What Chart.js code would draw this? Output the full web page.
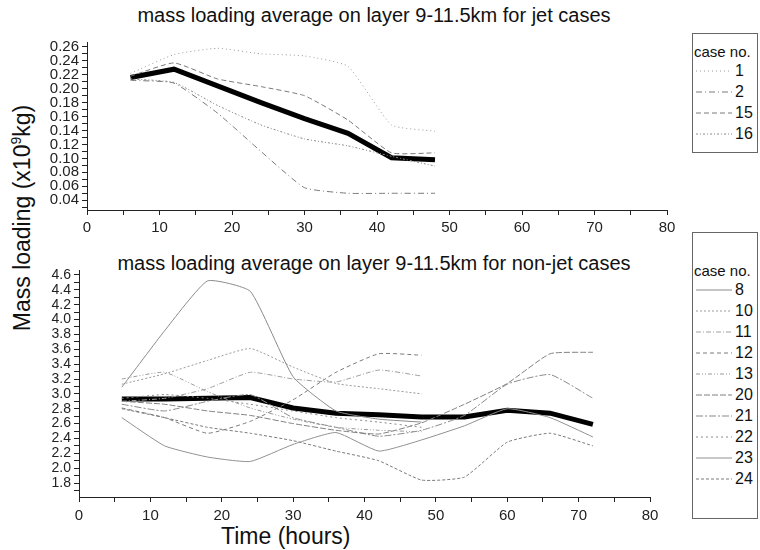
<!DOCTYPE html>
<html>
<head>
<meta charset="utf-8">
<script src="https://cdn.jsdelivr.net/npm/chart.js@4.4.1/dist/chart.umd.min.js"></script>
<style>
  body { margin: 0; background: #fff; font-family: "Liberation Sans", Arial, sans-serif; color: #111; }
  #page { position: relative; width: 760px; height: 550px; overflow: hidden; }
  canvas { position: absolute; }
  .title { position: absolute; left: 0; width: 748px; text-align: center; font-size: 20px; white-space: nowrap; }
  .legend { position: absolute; left: 692px; width: 66px; border: 1px solid #666; box-sizing: border-box; font-size: 16px; }
  .legend .head { font-size: 15px; padding-left: 1px; white-space: nowrap; }
  .legend .row { height: 21px; display: flex; align-items: center; }
  .legend svg { margin-left: 3px; margin-right: 3px; }
</style>
</head>
<body>
<div id="page">
  <div class="title" style="top:4px">mass loading average on layer 9-11.5km for jet cases</div>
  <div class="title" style="top:252px">mass loading average on layer 9-11.5km for non-jet cases</div>
  <div style="position:absolute;left:22px;top:218px;transform:translate(-50%,-50%) rotate(-90deg);font-size:23px;white-space:nowrap">Mass loading (x10<sup style="font-size:14px">9</sup>kg)</div>
  <div style="position:absolute;left:221px;top:523px;font-size:23px;white-space:nowrap">Time (hours)</div>
  <canvas id="jet" width="690" height="215" style="left:0;top:30px"></canvas>
  <canvas id="nonjet" width="690" height="270" style="left:0;top:255px"></canvas>
  <div class="legend" id="legJet" style="top:33px;height:120px;padding-top:9px"></div>
  <div class="legend" id="legNon" style="top:232px;height:287px;padding-top:29px"></div>
</div>
<script>
// jet cases, every 6 hours
const hoursJet = [6, 12, 18, 24, 30, 36, 42, 48];
const case1 = [0.222, 0.249, 0.258, 0.250, 0.247, 0.232, 0.148, 0.139];
const case2 = [0.212, 0.208, 0.165, 0.110, 0.058, 0.050, 0.050, 0.050];
const case15 = [0.218, 0.237, 0.214, 0.203, 0.190, 0.155, 0.108, 0.108];
const case16 = [0.214, 0.209, 0.176, 0.148, 0.128, 0.118, 0.103, 0.089];
const meanJet = [0.216, 0.228, 0.204, 0.180, 0.157, 0.136, 0.101, 0.098];

// non-jet cases
const hoursNon = [6, 12, 18, 24, 30, 36, 42, 48, 54, 60, 66, 72];
const case8 = [3.09, 3.85, 4.52, 4.38, 3.23, 2.77, 2.66, 2.62];
const case10 = [3.13, 3.27, 3.45, 3.61, 3.36, 3.14, 3.07, 3.00];
const case11 = [2.90, 2.94, 3.07, 3.29, 3.20, 3.16, 3.32, 3.24];
const case12 = [2.81, 2.68, 2.47, 2.63, 2.92, 3.29, 3.54, 3.52];
const case13 = [3.20, 3.29, 3.03, 2.81, 2.66, 2.55, 2.51, 2.49];
const case20 = [2.90, 2.86, 2.77, 2.71, 2.60, 2.51, 2.46, 2.61, 2.86, 3.14, 3.54, 3.56];
const case21 = [2.86, 2.77, 2.90, 2.99, 2.68, 2.55, 2.43, 2.51, 2.71, 3.13, 3.26, 2.94];
const case22 = [2.94, 2.99, 2.94, 2.86, 2.77, 2.68, 2.62, 2.55];
const case23 = [2.68, 2.30, 2.15, 2.09, 2.32, 2.48, 2.23, 2.38, 2.57, 2.80, 2.68, 2.42];
const case24 = [2.80, 2.68, 2.55, 2.47, 2.37, 2.23, 2.10, 1.84, 1.88, 2.35, 2.47, 2.30];
const meanNon = [2.93, 2.93, 2.94, 2.95, 2.81, 2.74, 2.72, 2.69, 2.69, 2.78, 2.74, 2.59];

const tickFont = { family: "'Liberation Sans Narrow', 'Liberation Sans', Arial", size: 15 };
const smallFont = { family: "'Liberation Sans Narrow', 'Liberation Sans', Arial", size: 14 };

function pts(hours, vals) {
  return vals.map((v, i) => ({ x: hours[i], y: v }));
}

function caseSet(label, hours, vals, dash, color) {
  return {
    label: label,
    data: pts(hours, vals),
    borderColor: color || "#8a8a8a",
    borderWidth: 1,
    borderDash: dash,
    pointRadius: 0,
    tension: 0.15,
    fill: false,
  };
}

function meanSet(hours, vals) {
  return {
    label: "",
    data: pts(hours, vals),
    borderColor: "#000",
    borderWidth: 5,
    pointRadius: 0,
    tension: 0,
    fill: false,
  };
}

function axisBase() {
  return {
    type: "linear",
    border: { display: true, color: "#222", width: 1 },
    grid: { display: true, drawOnChartArea: false, drawTicks: true, tickLength: 5, tickColor: "#222" },
  };
}

function makeChart(id, datasets, yMin, yMax, yStep, yFmt, yFont, padding, yWidth, xHeight, xPad) {
  const x = axisBase();
  x.min = 0;
  x.max = 80;
  x.afterFit = (s) => { s.height = xHeight; };
  x.ticks = {
    stepSize: 5, autoSkip: false, maxRotation: 0, padding: xPad, color: "#222", font: tickFont,
    callback: (v) => (v % 10 === 0 ? v : ""),
  };
  const y = axisBase();
  y.min = yMin;
  y.max = yMax;
  y.afterFit = (s) => { s.width = yWidth; };
  y.ticks = {
    stepSize: yStep, includeBounds: false, autoSkip: false, padding: 3, color: "#222", font: yFont,
    callback: yFmt,
  };
  return new Chart(document.getElementById(id), {
    type: "line",
    data: { datasets: datasets },
    options: {
      responsive: false,
      animation: false,
      layout: { padding: padding },
      plugins: { legend: { display: false }, tooltip: { enabled: false } },
      scales: { x: x, y: y },
    },
  });
}

const jetSets = [
  caseSet("1", hoursJet, case1, [1, 3], "#9a9a9a"),
  caseSet("2", hoursJet, case2, [6, 3, 1, 3], "#7a7a7a"),
  caseSet("15", hoursJet, case15, [5, 3], "#7a7a7a"),
  caseSet("16", hoursJet, case16, [2, 2, 1, 2], "#8a8a8a"),
  meanSet(hoursJet, meanJet),
];

const nonSets = [
  caseSet("8", hoursNon, case8, [], "#8a8a8a"),
  caseSet("10", hoursNon, case10, [2, 2], "#9a9a9a"),
  caseSet("11", hoursNon, case11, [5, 2, 1, 2], "#a0a0a0"),
  caseSet("12", hoursNon, case12, [4, 3], "#7a7a7a"),
  caseSet("13", hoursNon, case13, [4, 2, 1, 2, 1, 2], "#9a9a9a"),
  caseSet("20", hoursNon, case20, [6, 2], "#808080"),
  caseSet("21", hoursNon, case21, [7, 2, 2, 2], "#8a8a8a"),
  caseSet("22", hoursNon, case22, [2, 3], "#8a8a8a"),
  caseSet("23", hoursNon, case23, [], "#909090"),
  caseSet("24", hoursNon, case24, [3, 2], "#7a7a7a"),
  meanSet(hoursNon, meanNon),
];

makeChart("jet", jetSets, 0.026, 0.267, 0.01,
  (v) => (Math.round(v * 100) % 2 === 0 ? v.toFixed(2) : ""), tickFont,
  { left: 0, right: 23, top: 9, bottom: 0 }, 87, 35, 4);

makeChart("nonjet", nonSets, 1.612, 4.667, 0.1,
  (v) => (Math.round(v * 10) % 2 === 0 ? v.toFixed(1) : ""), smallFont,
  { left: 0, right: 40, top: 15, bottom: 0 }, 79, 28, 5);

function buildLegend(id, sets) {
  const box = document.getElementById(id);
  let html = '<div class="head">case no.</div>';
  sets.filter((d) => d.label).forEach((d) => {
    const dash = d.borderDash && d.borderDash.length ? d.borderDash.join(",") : "none";
    html += '<div class="row"><svg width="36" height="6"><line x1="0" y1="3" x2="36" y2="3" stroke="' +
      d.borderColor + '" stroke-width="1" stroke-dasharray="' + dash + '"/></svg><span>' + d.label + "</span></div>";
  });
  box.innerHTML = html;
}
buildLegend("legJet", jetSets);
buildLegend("legNon", nonSets);
</script>
</body>
</html>
